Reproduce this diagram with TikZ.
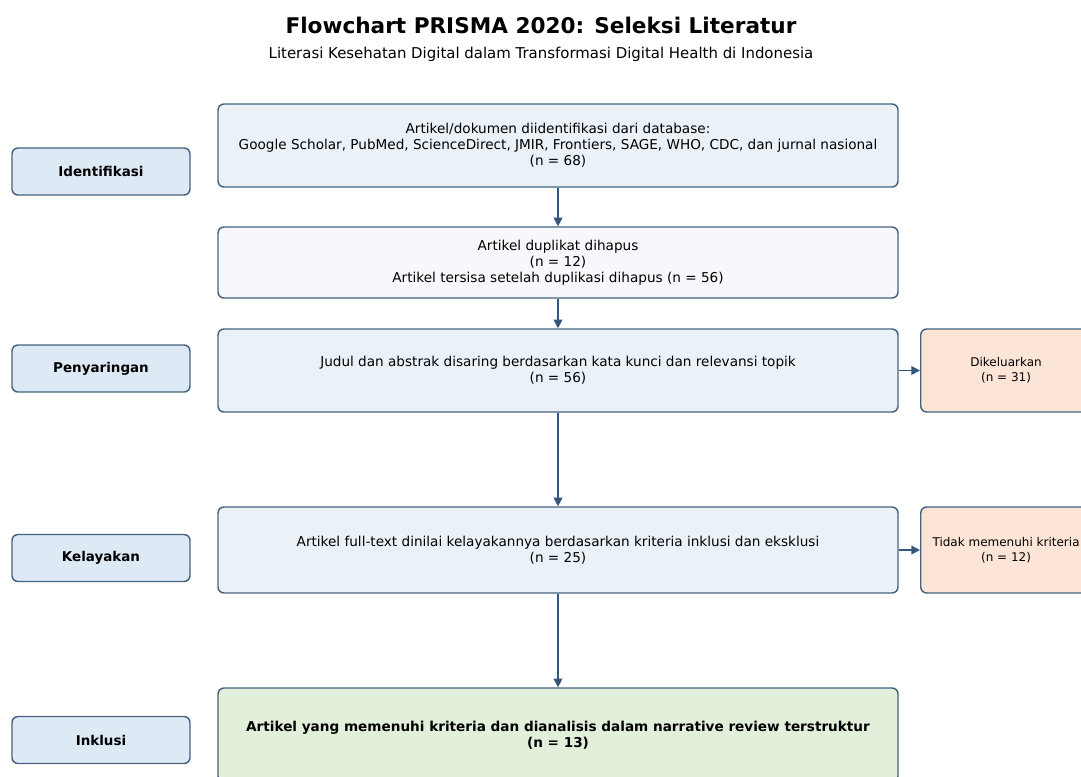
\documentclass[tikz,border=0pt]{standalone}
\usepackage{fontspec}
\setmainfont{DejaVu Sans}
\usepackage{tikz}
\usetikzlibrary{%
	arrows.meta,%
	positioning,%
	calc
}
\definecolor{edge-blue}{HTML}{45637F}
\definecolor{arrow-blue}{HTML}{34567A}
\definecolor{stage-fill}{HTML}{DDEAF6}
\definecolor{main-fill}{HTML}{EAF2F8}
\definecolor{dup-fill}{HTML}{F6F8FB}
\definecolor{out-fill}{HTML}{FCE4D6}
\definecolor{incl-fill}{HTML}{E2EFDA}

\begin{document}
\begin{tikzpicture}[x=0.75pt, y=-0.75pt,
		box/.style={draw=edge-blue, line width=1.1pt, rounded corners=4.5pt, align=center,
			font=\fontsize{10.2}{12}\selectfont, inner sep=0pt},
		stagebox/.style={box, fill=stage-fill, minimum width=133.5pt, minimum height=35.25pt,
			font=\fontsize{10.1}{12}\selectfont\bfseries},
		mainbox/.style={box, fill=main-fill, minimum width=510pt},
		outbox/.style={box, fill=out-fill, minimum width=128pt, anchor=west, font=\fontsize{9}{11}\selectfont},
		flow/.style={draw=arrow-blue, line width=1.2pt, -{Triangle[length=6.5pt, width=6.5pt]}}
	]
		\clip (0,0) rectangle (1081,776);
		\fill[white] (0,0) rectangle (1081,776);

		% title
		\node (title) at (541,25) {\fontsize{16.2}{18}\selectfont\bfseries Flowchart PRISMA 2020: Seleksi Literatur};
		\node (subtitle) at (541,54) {\fontsize{11.2}{13}\selectfont Literasi Kesehatan Digital dalam Transformasi Digital Health di Indonesia};

		% stages
		\node[stagebox] (identifikasi) at (101,171.5) {Identifikasi};
		\node[stagebox] (penyaringan) at (101,368.5) {Penyaringan};
		\node[stagebox] (kelayakan) at (101,558) {Kelayakan};
		\node[stagebox] (inklusi) at (101,740) {Inklusi};

		% main flow
		\node[mainbox, minimum height=62.25pt] (found) at (558,145.5)
			{Artikel/dokumen diidentifikasi dari database:\\
			Google Scholar, PubMed, ScienceDirect, JMIR, Frontiers, SAGE, WHO, CDC, dan jurnal nasional\\
			(n = 68)};
		\node[mainbox, fill=dup-fill, minimum height=53.25pt] (dups) at (558,262.5)
			{Artikel duplikat dihapus\\(n = 12)\\Artikel tersisa setelah duplikasi dihapus (n = 56)};
		\node[mainbox, minimum height=62.25pt] (screen) at (558,370.5)
			{Judul dan abstrak disaring berdasarkan kata kunci dan relevansi topik\\(n = 56)};
		\node[mainbox, minimum height=64.5pt] (fulltext) at (558,550)
			{Artikel full-text dinilai kelayakannya berdasarkan kriteria inklusi dan eksklusi\\(n = 25)};
		\node[mainbox, fill=incl-fill, minimum height=70.5pt, font=\fontsize{10.2}{12}\selectfont\bfseries] (included) at (558,735)
			{Artikel yang memenuhi kriteria dan dianalisis dalam narrative review terstruktur\\(n = 13)};

		% excluded
		\node[outbox, minimum height=62.25pt] (excl) at (920,370.5) {Dikeluarkan\\(n = 31)};
		\node[outbox, minimum height=64.5pt] (notmet) at (920,550) {Tidak memenuhi kriteria\\(n = 12)};

		\draw[flow] (found) -- (dups);
		\draw[flow] (dups) -- (screen);
		\draw[flow] (screen) -- (fulltext);
		\draw[flow] (fulltext) -- (included);
		\draw[flow] (screen) -- (excl);
		\draw[flow] (fulltext) -- (notmet);
	\end{tikzpicture}
\end{document}
